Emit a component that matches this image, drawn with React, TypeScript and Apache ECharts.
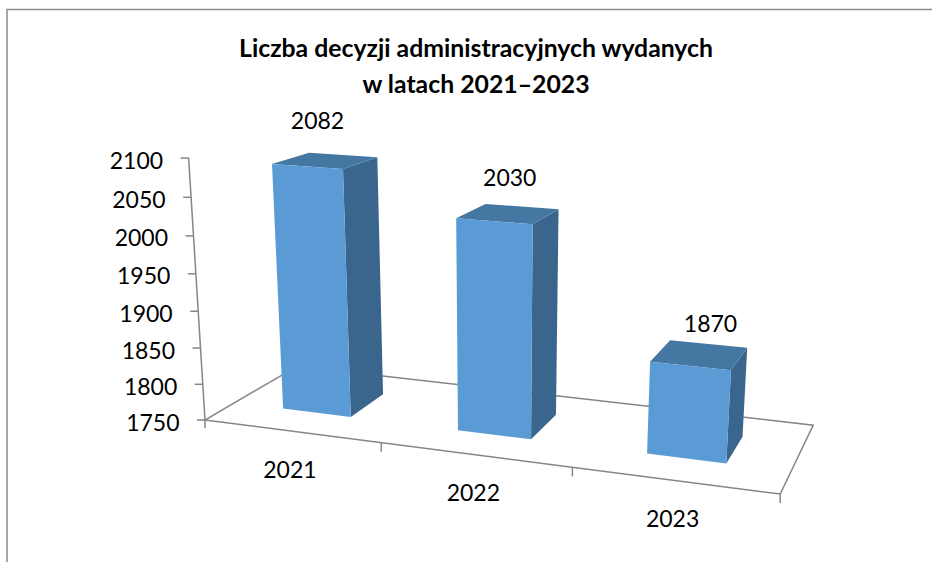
import React, { useEffect, useRef } from "react";
import * as echarts from "echarts";

const titleLines = ["Liczba decyzji administracyjnych wydanych", "w latach 2021–2023"];
const categories = ["2021", "2022", "2023"];
const decisions = [2082, 2030, 1870];
const yTicks = [1750, 1800, 1850, 1900, 1950, 2000, 2050, 2100];
const yMin = 1750;
const yMax = 2100;

const FRONT = "#5B9BD5";
const SIDE = "#3A658D";
const TOP = "#4577A3";
const LINE = "#868686";
const FONT = "Lato";

// Camera: vanishing points of the three box directions and the front-left floor corner.
const VP_U = [-4170, -143];
const VP_V = [1053, -75];
const VP_W = [497, 5100];
const ORIGIN = [205, 420];
const K_U = -0.1162;
const K_V = 0.1217;
const K_W = -0.053;
const BAR_FRONT = 0.3;
const BAR_BACK = 0.7;
const BAR_FILL = 0.396;
const BAR_SHIFT = -0.004;
const BAR_RISE = 1.01;

function project(u: number, v: number, w: number): number[] {
  const a = K_U * u;
  const b = K_V * v;
  const c = K_W * w;
  const d = 1 + a + b + c;
  return [
    (a * VP_U[0] + b * VP_V[0] + c * VP_W[0] + ORIGIN[0]) / d,
    (a * VP_U[1] + b * VP_V[1] + c * VP_W[1] + ORIGIN[1]) / d,
  ];
}

function cube(params: any, api: any, cat: number, val: number) {
  const p = api.coord([cat, val]);
  const g = params.coordSys;
  return { u: (p[0] - g.x) / g.width, w: (g.y + g.height - p[1]) / g.height, g };
}

const lineStyle = { stroke: LINE, lineWidth: 1.5, fill: "none" };
const seg = (a: number[], b: number[]) => ({
  type: "line",
  shape: { x1: a[0], y1: a[1], x2: b[0], y2: b[1] },
  style: lineStyle,
});
const txt = (x: number, y: number, text: string, align = "center") => ({
  type: "text",
  style: { x, y, text, align, verticalAlign: "middle", fontSize: 23, fontFamily: FONT, fill: "#000" },
});

function renderFloor(params: any, api: any) {
  const children: any[] = [
    {
      type: "polyline",
      shape: {
        points: [project(0, 1, 0), project(1, 1, 0), project(1, 0, 0), project(0, 0, 0), project(0, 1, 0)],
      },
      style: lineStyle,
    },
    seg(project(0, 0, 0), project(0, 0, 1)),
  ];
  categories.forEach((_, i) => {
    const p = project((i + 1) / categories.length, 0, 0);
    children.push(seg(p, [p[0], p[1] + 9]));
  });
  const o = project(0, 0, 0);
  children.push(seg(o, [o[0], o[1] + 8]));
  return { type: "group", children };
}

function renderYTick(params: any, api: any) {
  const { w } = cube(params, api, 0, api.value(1));
  const p = project(0, 0, w);
  return {
    type: "group",
    children: [
      seg(p, [p[0] - 8, p[1]]),
      txt(p[0] - 25.5, p[1] + 1.5, String(api.value(1)), "right"),
    ],
  };
}

function renderBar(params: any, api: any) {
  const cat = api.value(0);
  const val = api.value(1);
  const cu = cube(params, api, cat, val);
  const { u, g } = cu;
  const w = cu.w * BAR_RISE;
  const half = ((api.size([1, 0])[0] / g.width) * BAR_FILL) / 2;
  const uC = u + BAR_SHIFT;
  const uL = uC - half;
  const uR = uC + half;
  const fl0 = project(uL, BAR_FRONT, 0);
  const fr0 = project(uR, BAR_FRONT, 0);
  const br0 = project(uR, BAR_BACK, 0);
  const fl1 = project(uL, BAR_FRONT, w);
  const fr1 = project(uR, BAR_FRONT, w);
  const br1 = project(uR, BAR_BACK, w);
  const bl1 = project(uL, BAR_BACK, w);
  const c = project(uC, 0.5, w);
  const f = project(u, 0, 0);
  const t = u - 1 / 6;
  return {
    type: "group",
    children: [
      { type: "polygon", shape: { points: [fr0, br0, br1, fr1] }, style: { fill: SIDE } },
      { type: "polygon", shape: { points: [fl1, fr1, br1, bl1] }, style: { fill: TOP } },
      { type: "polygon", shape: { points: [fl0, fr0, fr1, fl1] }, style: { fill: FRONT } },
      txt(c[0] - 8 + 28.5 * t, c[1] - 41 + 14.25 * t, String(val)),
      txt(f[0] - 1.5, f[1] + 37.5, categories[cat]),
    ],
  };
}

export default function App() {
  const ref = useRef<HTMLDivElement>(null);
  useEffect(() => {
    const chart = echarts.init(ref.current!, undefined, { renderer: "svg" });
    chart.setOption({
      animation: false,
      backgroundColor: "#fff",
      title: {
        text: titleLines.join("\n"),
        left: 471,
        top: 24,
        textAlign: "center",
        textStyle: { fontFamily: FONT, fontWeight: "bold", fontSize: 24.8, lineHeight: 36, color: "#000" },
      },
      graphic: [
        {
          type: "polyline",
          shape: { points: [[7, 562], [7, 9.5], [932, 9.5]] },
          style: { stroke: "#8C8C8C", lineWidth: 1.5, fill: "none" },
        },
      ],
      grid: { left: 100, top: 100, width: 600, height: 300, show: false },
      xAxis: { type: "category", data: categories, show: false },
      yAxis: { type: "value", min: yMin, max: yMax, interval: 50, show: false },
      series: [
        {
          type: "custom",
          name: "floor",
          silent: true,
          z: 1,
          coordinateSystem: "cartesian2d",
          data: [[0, yMin]],
          renderItem: renderFloor,
        },
        {
          type: "custom",
          name: "yTicks",
          silent: true,
          z: 2,
          coordinateSystem: "cartesian2d",
          data: yTicks.map((v) => [0, v]),
          renderItem: renderYTick,
        },
        {
          type: "custom",
          name: "decyzje",
          silent: true,
          z: 3,
          coordinateSystem: "cartesian2d",
          data: decisions.map((v, i) => [i, v]),
          encode: { x: 0, y: 1 },
          renderItem: renderBar,
        },
      ],
    });
    return () => chart.dispose();
  }, []);
  return <div ref={ref} style={{ position: "fixed", left: 0, top: 0, width: 932, height: 562 }} />;
}
